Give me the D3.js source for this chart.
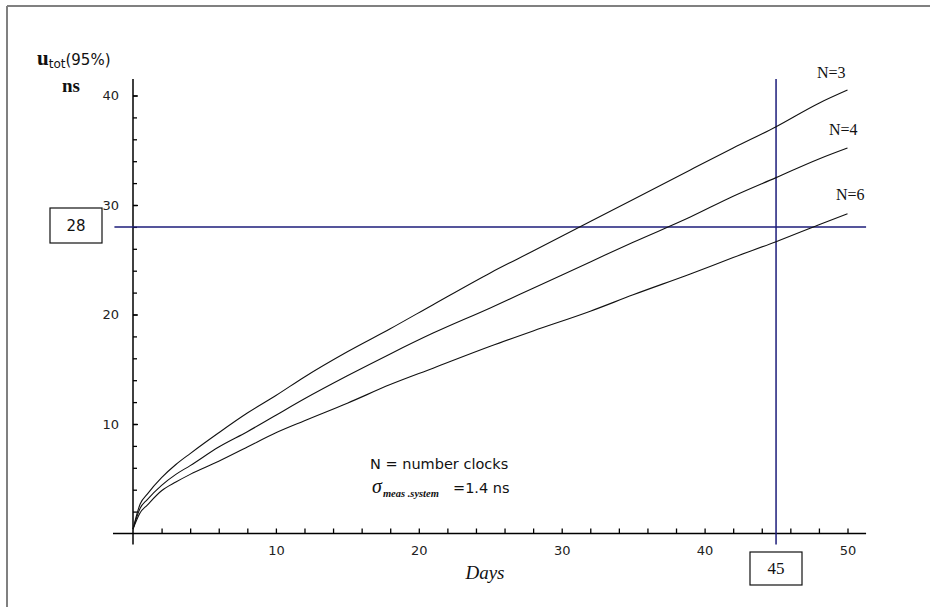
<!DOCTYPE html>
<html>
<head>
<meta charset="utf-8">
<script src="https://cdnjs.cloudflare.com/ajax/libs/d3/7.8.5/d3.min.js"></script>
<style>
  body { margin: 0; background: #fff; }
  svg { display: block; }
</style>
</head>
<body>
<div id="chart"></div>
<script>
// days on the x axis
const days = [0, 0.5, 1, 2, 3, 4, 6, 8, 10, 12, 15, 18, 21, 25, 28, 32, 35, 39, 42, 45, 48, 50];
// u_tot(95%) in ns
const n3 = [0.4, 2.7, 3.6, 5.1, 6.3, 7.3, 9.2, 11.0, 12.6, 14.3, 16.6, 18.7, 20.9, 23.8, 25.8, 28.5, 30.5, 33.2, 35.2, 37.15, 39.3, 40.5];
const n4 = [0.4, 2.3, 3.1, 4.4, 5.4, 6.2, 7.9, 9.3, 10.8, 12.3, 14.4, 16.4, 18.3, 20.6, 22.4, 24.8, 26.6, 28.9, 30.8, 32.5, 34.2, 35.2];
const n6 = [0.4, 1.9, 2.6, 3.9, 4.7, 5.4, 6.6, 7.9, 9.2, 10.3, 11.9, 13.6, 15.1, 17.1, 18.5, 20.3, 21.8, 23.7, 25.2, 26.65, 28.2, 29.2];
const seriesNames = ["N=3", "N=4", "N=6"];
const yMajor = [10, 20, 30, 40];
const xMajor = [10, 20, 30, 40, 50];
const markDay = 45;
const markValue = 28;

const width = 930;
const height = 607;

const svg = d3.select("#chart").append("svg")
  .attr("width", width)
  .attr("height", height);

// grey frame (only top and left are visible in the picture)
svg.append("line").attr("x1", 7).attr("y1", 6).attr("x2", width).attr("y2", 6)
  .attr("stroke", "#808080").attr("stroke-width", 2);
svg.append("line").attr("x1", 7).attr("y1", 6).attr("x2", 7).attr("y2", height)
  .attr("stroke", "#808080").attr("stroke-width", 2);

const x = d3.scaleLinear().domain([0, 50]).range([133, 847.5]);
const y = d3.scaleLinear().domain([0, 40]).range([533.5, 95.5]);

const evens = d3.range(2, 51, 2);
const yEvens = d3.range(2, 41, 2);

// y axis: minor ticks then labelled majors, ticks pointing right
svg.append("g")
  .attr("transform", `translate(${x(0)},0)`)
  .call(d3.axisLeft(y).tickValues(yEvens).tickSize(-4).tickFormat(""))
  .call(g => g.select(".domain").remove())
  .call(g => g.selectAll("line").attr("stroke", "#000").attr("stroke-width", 1.3));
svg.append("g")
  .attr("transform", `translate(${x(0)},0)`)
  .call(d3.axisLeft(y).tickValues(yMajor).tickSize(-5).tickPadding(14))
  .call(g => g.select(".domain").remove())
  .call(g => g.selectAll("line").attr("stroke", "#000").attr("stroke-width", 1.3))
  .call(g => g.selectAll("text").attr("font-family", "DejaVu Sans").attr("font-size", 13).attr("fill", "#222"));

// x axis: ticks pointing up
svg.append("g")
  .attr("transform", `translate(0,${y(0)})`)
  .call(d3.axisBottom(x).tickValues(evens).tickSize(-5).tickFormat(""))
  .call(g => g.select(".domain").remove())
  .call(g => g.selectAll("line").attr("stroke", "#000").attr("stroke-width", 1.3));
svg.append("g")
  .attr("transform", `translate(0,${y(0)})`)
  .call(d3.axisBottom(x).tickValues(xMajor).tickSize(0).tickPadding(12))
  .call(g => g.select(".domain").remove())
  .call(g => g.selectAll("text").attr("font-family", "DejaVu Sans").attr("font-size", 13).attr("fill", "#222"));

// axis lines
svg.append("line")
  .attr("x1", x(-1.4)).attr("x2", x(51.3)).attr("y1", y(0)).attr("y2", y(0))
  .attr("stroke", "#000").attr("stroke-width", 1.5);
svg.append("line")
  .attr("x1", x(0)).attr("x2", x(0)).attr("y1", y(41.5)).attr("y2", y(-1))
  .attr("stroke", "#000").attr("stroke-width", 1.5);

// navy guide lines
svg.append("line")
  .attr("x1", x(-1.3)).attr("x2", x(51.3)).attr("y1", y(markValue)).attr("y2", y(markValue))
  .attr("stroke", "#1c1c7a").attr("stroke-width", 1.5);
svg.append("line")
  .attr("x1", x(markDay)).attr("x2", x(markDay)).attr("y1", y(41.5)).attr("y2", y(-1))
  .attr("stroke", "#1c1c7a").attr("stroke-width", 1.5);

// curves
const line = d3.line()
  .x((d, i) => x(days[i]))
  .y(d => y(d))
  .curve(d3.curveMonotoneX);
[n3, n4, n6].forEach(s => {
  svg.append("path")
    .attr("d", line(s))
    .attr("fill", "none")
    .attr("stroke", "#111")
    .attr("stroke-width", 1.1);
});

// curve labels
const labelPos = [[817, 78], [829, 135], [836, 200]];
seriesNames.forEach((name, i) => {
  svg.append("text")
    .attr("x", labelPos[i][0]).attr("y", labelPos[i][1])
    .attr("font-family", "Liberation Serif").attr("font-size", 16)
    .attr("fill", "#111")
    .text(name);
});

// y axis title
const yt = svg.append("text").attr("x", 37).attr("y", 65)
  .attr("font-family", "Liberation Serif").attr("font-size", 21).attr("fill", "#111");
yt.append("tspan").attr("font-weight", "bold").text("u");
yt.append("tspan").attr("font-family", "DejaVu Sans").attr("font-size", 12).attr("dy", 3).text("tot");
yt.append("tspan").attr("font-family", "DejaVu Sans").attr("font-size", 15).attr("dy", -3).text("(95%)");
svg.append("text").attr("x", 62).attr("y", 92)
  .attr("font-family", "Liberation Serif").attr("font-size", 19).attr("font-weight", "bold")
  .attr("fill", "#111").text("ns");

// x axis title
svg.append("text").attr("x", 485).attr("y", 579).attr("text-anchor", "middle")
  .attr("font-family", "Liberation Serif").attr("font-size", 19).attr("font-style", "italic")
  .attr("fill", "#111").text("Days");

// note
svg.append("text").attr("x", 370).attr("y", 469)
  .attr("font-family", "DejaVu Sans").attr("font-size", 14.5).attr("fill", "#111")
  .text("N = number clocks");
const sg = svg.append("text").attr("x", 372).attr("y", 493)
  .attr("font-family", "Liberation Serif").attr("fill", "#111");
sg.append("tspan").attr("font-size", 20).attr("font-style", "italic").text("σ");
sg.append("tspan").attr("font-size", 10.5).attr("font-style", "italic").attr("font-weight", "bold")
  .attr("dx", 1).attr("dy", 4).text("meas .system");
svg.append("text").attr("x", 453).attr("y", 493)
  .attr("font-family", "DejaVu Sans").attr("font-size", 14.5).attr("fill", "#111")
  .text("=1.4 ns");

// value boxes
svg.append("rect").attr("x", 50).attr("y", 208).attr("width", 52).attr("height", 35)
  .attr("fill", "#fff").attr("stroke", "#111").attr("stroke-width", 1.2);
svg.append("text").attr("x", 76).attr("y", 231).attr("text-anchor", "middle")
  .attr("font-family", "DejaVu Sans").attr("font-size", 15).attr("fill", "#111")
  .text(markValue);
svg.append("rect").attr("x", 750).attr("y", 552).attr("width", 52).attr("height", 33)
  .attr("fill", "#fff").attr("stroke", "#111").attr("stroke-width", 1.2);
svg.append("text").attr("x", 776).attr("y", 574).attr("text-anchor", "middle")
  .attr("font-family", "Liberation Serif").attr("font-size", 17).attr("fill", "#111")
  .text(markDay);
</script>
</body>
</html>
